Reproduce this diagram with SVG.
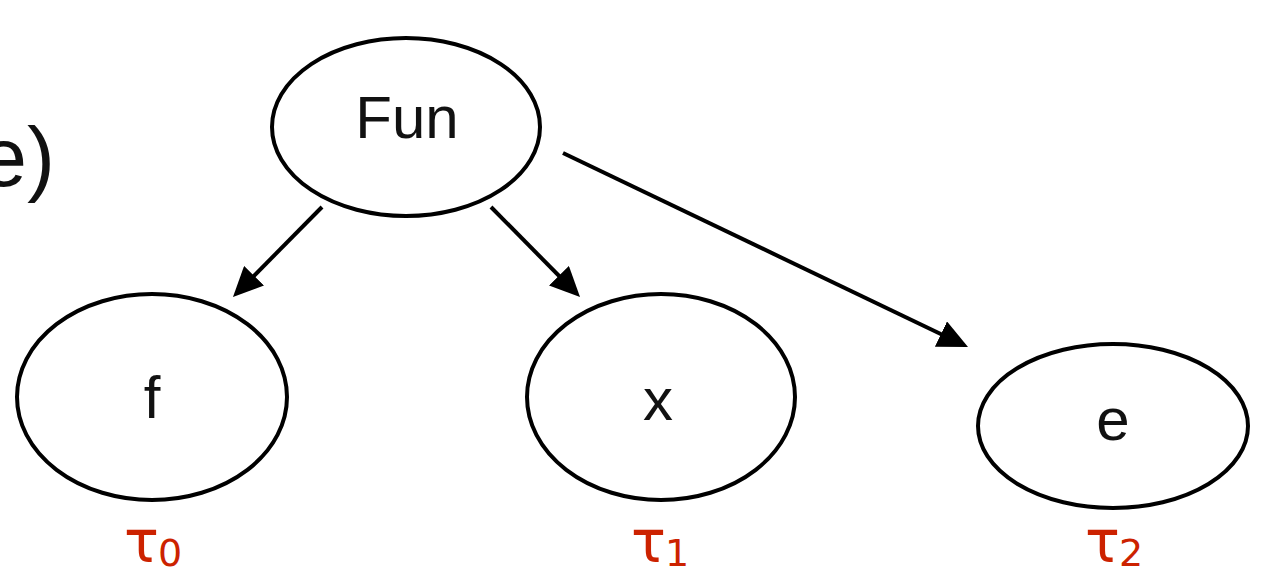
<svg xmlns="http://www.w3.org/2000/svg" width="1261" height="572" viewBox="0 0 1261 572">
<style>
.node{fill:#fff;stroke:#000;stroke-width:4}
.lbl{font-family:"Liberation Sans",Arial,sans-serif;font-size:60px;fill:#111;text-anchor:middle}
.tau{font-family:"DejaVu Sans","Liberation Sans",sans-serif;font-size:58px;fill:#cc2200}
.sub{font-family:"DejaVu Sans","Liberation Sans",sans-serif;font-size:38px;fill:#cc2200}
.edge{stroke:#000;stroke-width:4;fill:none;marker-end:url(#ah)}
</style>
<defs>
<marker id="ah" viewBox="0 0 30 28" refX="20" refY="14" markerWidth="30" markerHeight="28" markerUnits="userSpaceOnUse" orient="auto">
<path d="M0,0 L30,14 L0,28 z" fill="#000"/>
</marker>
</defs>
<rect width="1261" height="572" fill="#fff"/>
<text x="55" y="186" font-family="'Liberation Sans',Arial,sans-serif" font-size="84" fill="#111" text-anchor="end">e)</text>
<g id="edges">
<line class="edge" x1="322" y1="207" x2="240" y2="290"/>
<line class="edge" x1="491" y1="207" x2="573" y2="290"/>
<line class="edge" x1="563" y1="153" x2="959" y2="342.7"/>
</g>
<g id="node-fun">
<ellipse class="node" cx="406" cy="127" rx="134" ry="89"/>
<text class="lbl" x="407" y="138">Fun</text>
</g>
<g id="node-f">
<ellipse class="node" cx="152" cy="397" rx="135" ry="103"/>
<text class="lbl" x="152" y="418">f</text>
</g>
<g id="node-x">
<ellipse class="node" cx="661" cy="397" rx="134" ry="103"/>
<text class="lbl" x="658" y="420">x</text>
</g>
<g id="node-e">
<ellipse class="node" cx="1113" cy="426" rx="135" ry="82"/>
<text class="lbl" x="1113" y="440">e</text>
</g>
<g id="types">
<text class="tau" x="124" y="562">τ</text><text class="sub" x="158" y="566">0</text>
<text class="tau" x="631" y="562">τ</text><text class="sub" x="665" y="566">1</text>
<text class="tau" x="1085" y="562">τ</text><text class="sub" x="1119" y="566">2</text>
</g>
</svg>
